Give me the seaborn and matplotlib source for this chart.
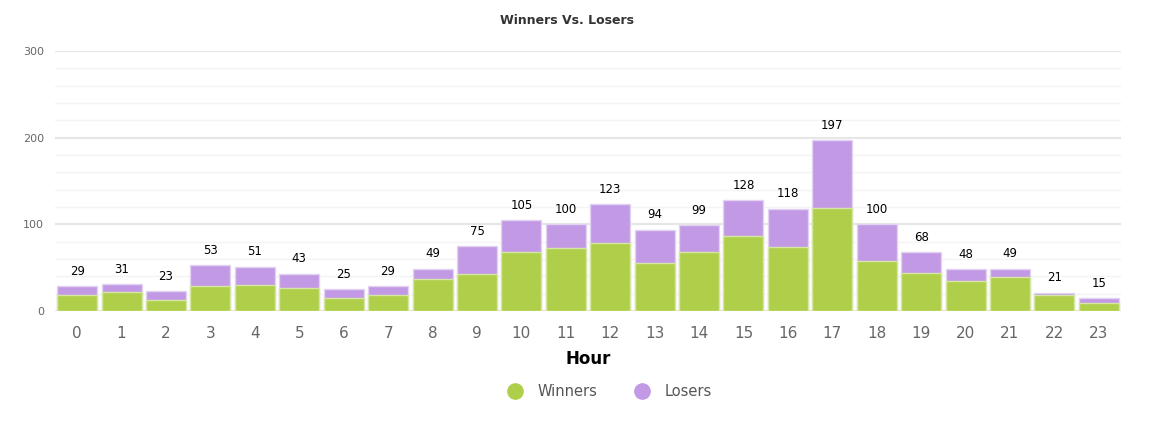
import matplotlib
matplotlib.use("Agg")
import matplotlib.pyplot as plt
from matplotlib.lines import Line2D
from matplotlib.ticker import MultipleLocator
import seaborn as sns
import pandas as pd

hours = list(range(24))
totals = [29, 31, 23, 53, 51, 43, 25, 29, 49, 75, 105, 100, 123, 94, 99, 128, 118, 197, 100, 68, 48, 49, 21, 15]
winners = [19, 22, 13, 29, 30, 27, 15, 18, 37, 43, 68, 73, 79, 55, 68, 87, 74, 119, 58, 44, 35, 39, 18, 9]
losers = [t - w for t, w in zip(totals, winners)]

df = pd.DataFrame({"Hour": [str(h) for h in hours], "Winners": winners, "Losers": losers, "Total": totals})

sns.set_theme(style="white")
plt.rcParams['font.family'] = ['DejaVu Sans']

GREEN = "#afcf4b"
PURPLE = "#c299e5"

fig = plt.figure(figsize=(11.59, 4.30), dpi=100)
ax = fig.add_axes([55/1159, 1 - 311/430, (1121-55)/1159, 260/430])

sns.barplot(data=df, x="Hour", y="Total", color=PURPLE, saturation=1, width=0.9,
            edgecolor="#e3d3f2", linewidth=1, ax=ax, zorder=3)
sns.barplot(data=df, x="Hour", y="Winners", color=GREEN, saturation=1, width=0.9,
            edgecolor="#d6e6a4", linewidth=1, ax=ax, zorder=4)

for i, t in enumerate(totals):
    ax.annotate(str(t), (i, t), xytext=(0, 6), textcoords="offset points",
                ha="center", va="bottom", fontsize=8.5, color="black", zorder=5)

ax.set_ylim(0, 300)
ax.set_xlim(-0.5, 23.5)
ax.yaxis.set_major_locator(MultipleLocator(100))
ax.yaxis.set_minor_locator(MultipleLocator(20))
ax.grid(axis="y", which="major", color="#e6e6e6", linewidth=1.5, zorder=0)
ax.grid(axis="y", which="minor", color="#f4f4f4", linewidth=1.0, zorder=0)
ax.set_axisbelow(True)
for s in ax.spines.values():
    s.set_visible(False)

ax.tick_params(axis="y", which="both", length=0, labelsize=8, labelcolor="#666666", pad=8)
ax.tick_params(axis="x", length=0, labelsize=11, labelcolor="#666666", pad=11)
ax.set_ylabel("")
ax.set_xlabel("Hour", fontsize=12, fontweight="bold", color="black", labelpad=6)

fig.text(0.489, 1 - 20/430, "Winners Vs. Losers", ha="center", va="center",
         fontsize=9, fontweight="bold", color="#333333")

handles = [Line2D([0], [0], marker="o", linestyle="", markersize=11, markerfacecolor=GREEN, markeredgecolor=GREEN),
           Line2D([0], [0], marker="o", linestyle="", markersize=11, markerfacecolor=PURPLE, markeredgecolor=PURPLE)]
leg = fig.legend(handles, ["Winners", "Losers"], loc="center", bbox_to_anchor=(0.523, 1 - 392/430),
                 ncol=2, frameon=False, fontsize=10.5, handletextpad=0.6, columnspacing=2.0)
for t in leg.get_texts():
    t.set_color("#555555")

fig.savefig("out.png", dpi=100)
